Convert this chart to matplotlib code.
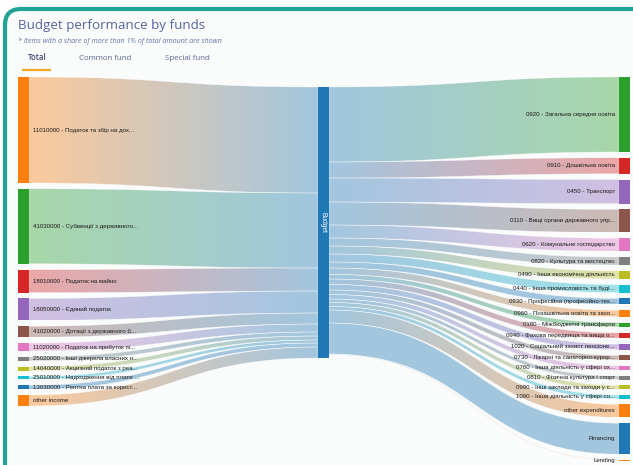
import matplotlib.pyplot as plt
import numpy as np
from matplotlib.patches import Polygon, Rectangle, FancyBboxPatch
from matplotlib.colors import to_rgb

# ---- data (arbitrary units) ----
left_names = ['11010000 - Податок та збір на дох...',
              '41030000 - Субвенції з державного...',
              '18010000 - Податок на майно',
              '18050000 - Єдиний податок',
              '41020000 - Дотації з державного б...',
              '11020000 - Податок на прибуток пі...',
              '25020000 - Інші джерела власних н...',
              '14040000 - Акцизний податок з реа...',
              '25010000 - Надходження від плати ...',
              '13030000 - Рентна плата за корист...',
              'other income']
left_values = [106, 75, 23, 22, 11, 8, 4, 4, 3, 4, 11]
left_colors = ['#ff7f0e', '#2ca02c', '#d62728', '#9467bd', '#8c564b', '#e377c2',
               '#7f7f7f', '#bcbd22', '#17becf', '#1f77b4', '#ff7f0e']

right_names = ['0920 - Загальна середня освіта',
               '0910 - Дошкільна освіта',
               '0450 - Транспорт',
               '0110 - Вищі органи державного упр...',
               '0620 - Комунальне господарство',
               '0820 - Культура та мистецтво',
               '0490 - Інша економічна діяльність',
               '0440 - Інша промисловість та буді...',
               '0930 - Професійна (професійно-тех...',
               '0960 - Позашкільна освіта та захо...',
               '0180 - Міжбюджетні трансферти',
               '0940 - Фахова передвища та вища о...',
               '1020 - Соціальний захист пенсіоне...',
               '0730 - Лікарні та санаторно-курор...',
               '0760 - Інша діяльність у сфері ох...',
               '0810 - Фізична культура і спорт',
               '0990 - Інші заклади та заходи у с...',
               '1090 - Інша діяльність у сфері со...',
               'other expenditures',
               'Financing',
               'Lending']
right_values = [75, 16, 24, 23, 13, 8, 8, 8, 6, 6.5, 4.5, 5.5, 5.5, 4.5, 4.5,
                3.5, 4, 3.5, 13, 31, 0.5]
right_colors = ['#2ca02c', '#d62728', '#9467bd', '#8c564b', '#e377c2', '#7f7f7f',
                '#bcbd22', '#17becf', '#1f77b4', '#ff7f0e', '#2ca02c', '#d62728',
                '#9467bd', '#8c564b', '#e377c2', '#7f7f7f', '#bcbd22', '#17becf',
                '#ff7f0e', '#1f77b4', '#ff7f0e']

hub_name = 'Budget'
hub_color = '#1f77b4'
tabs = ['Total', 'Common fund', 'Special fund']

# ---- figure in pixel coordinates ----
W, H = 633, 465
fig = plt.figure(figsize=(W / 100, H / 100), dpi=100)
ax = fig.add_axes([0, 0, 1, 1])
ax.set_xlim(0, W)
ax.set_ylim(H, 0)
ax.axis('off')

bg = np.array(to_rgb('#fafbfb'))
card = FancyBboxPatch((5, 9), 700, 520, boxstyle='round,pad=0,rounding_size=16',
                      fc='#fafbfb', ec='#20a396', lw=3, zorder=0)
ax.add_patch(card)

# header
hfont = 'Open Sans'
ax.text(18, 26, 'Budget performance by funds', fontsize=9.6, color='#56649c',
        family=hfont, va='center', ha='left')
ax.text(18, 41, '* Items with a share of more than 1% of total amount are shown',
        fontsize=5.1, color='#6673a6', style='italic', family=hfont, va='center')
tab_x = [28, 79, 165]
for i, (tx, name) in enumerate(zip(tab_x, tabs)):
    ax.text(tx, 58, name, fontsize=5.7, family=hfont, va='center', ha='left',
            color='#3d4a78' if i == 0 else '#5a6794',
            fontweight='semibold' if i == 0 else 'normal')
ax.plot([22, 51], [70.5, 70.5], color='#f5a623', lw=1.6, solid_capstyle='butt')

# ---- sankey layout ----
top, bottom = 77, 460
pad = 5.8
node_w = 11
x_left, x_hub, x_right = 18, 318, 619
hub_top = 87
n_max = max(len(left_values), len(right_values))
total = max(sum(left_values), sum(right_values))
ky = 1.0


def stack(values, y0, gap):
    spans = []
    y = y0
    for v in values:
        spans.append((y, y + v * ky))
        y += v * ky + gap
    return spans


left_pos = stack(left_values, top, pad)
right_pos = stack(right_values, top, pad)
hub_in = stack(left_values, hub_top, 0)
hub_out = stack(right_values, hub_top, 0)


def light(c, a=0.4):
    return a * np.array(to_rgb(c)) + (1 - a) * bg


def link(xa, ya, xb, yb, ca, cb):
    t = np.linspace(0, 1, 80)
    xm = (xa + xb) / 2

    def bez(p0, p3):
        x = (1 - t) ** 3 * xa + 3 * (1 - t) ** 2 * t * xm + 3 * (1 - t) * t ** 2 * xm + t ** 3 * xb
        y = (1 - t) ** 3 * p0 + 3 * (1 - t) ** 2 * t * p0 + 3 * (1 - t) * t ** 2 * p3 + t ** 3 * p3
        return x, y

    x1, y1 = bez(ya[0], yb[0])
    x2, y2 = bez(ya[1], yb[1])
    verts = np.column_stack([np.r_[x1, x2[::-1]], np.r_[y1, y2[::-1]]])
    poly = Polygon(verts, closed=True, fc='none', ec='none', zorder=1)
    ax.add_patch(poly)
    g = np.linspace(0, 1, 120)[None, :, None]
    img = (1 - g) * light(ca) + g * light(cb)
    ymin, ymax = verts[:, 1].min(), verts[:, 1].max()
    im = ax.imshow(img, extent=(xa, xb, ymax, ymin), aspect='auto',
                   interpolation='bilinear', zorder=1)
    im.set_clip_path(poly)
    ax.add_patch(Polygon(verts, closed=True, fc='none', ec='white', lw=0.3,
                         alpha=0.7, zorder=1.5))


for (s, h, c) in zip(left_pos, hub_in, left_colors):
    link(x_left + node_w, s, x_hub, h, c, hub_color)
for (h, s, c) in zip(hub_out, right_pos, right_colors):
    link(x_hub + node_w, h, x_right, s, hub_color, c)

ax.set_xlim(0, W)
ax.set_ylim(H, 0)

# nodes and labels
lab = dict(fontsize=4.4, color='#1a1a1a', family='Liberation Sans', va='center', zorder=3)
for (y0, y1), c, name in zip(left_pos, left_colors, left_names):
    ax.add_patch(Rectangle((x_left, y0), node_w, max(y1 - y0, 0.6), fc=c, ec='none', zorder=2))
    ax.text(x_left + node_w + 4, (y0 + y1) / 2, name, ha='left', **lab)
for (y0, y1), c, name in zip(right_pos, right_colors, right_names):
    ax.add_patch(Rectangle((x_right, y0), node_w, max(y1 - y0, 0.6), fc=c, ec='none', zorder=2))
    ax.text(x_right - 4, (y0 + y1) / 2, name, ha='right', **lab)

hub_h = total * ky
ax.add_patch(Rectangle((x_hub, hub_top), node_w, hub_h, fc=hub_color, ec='none', zorder=2))
ax.text(x_hub + node_w / 2, hub_top + hub_h / 2, hub_name, rotation=-90, color='white',
        fontsize=4.8, family='Liberation Sans', ha='center', va='center', zorder=3)

fig.savefig('out.png', dpi=100)
